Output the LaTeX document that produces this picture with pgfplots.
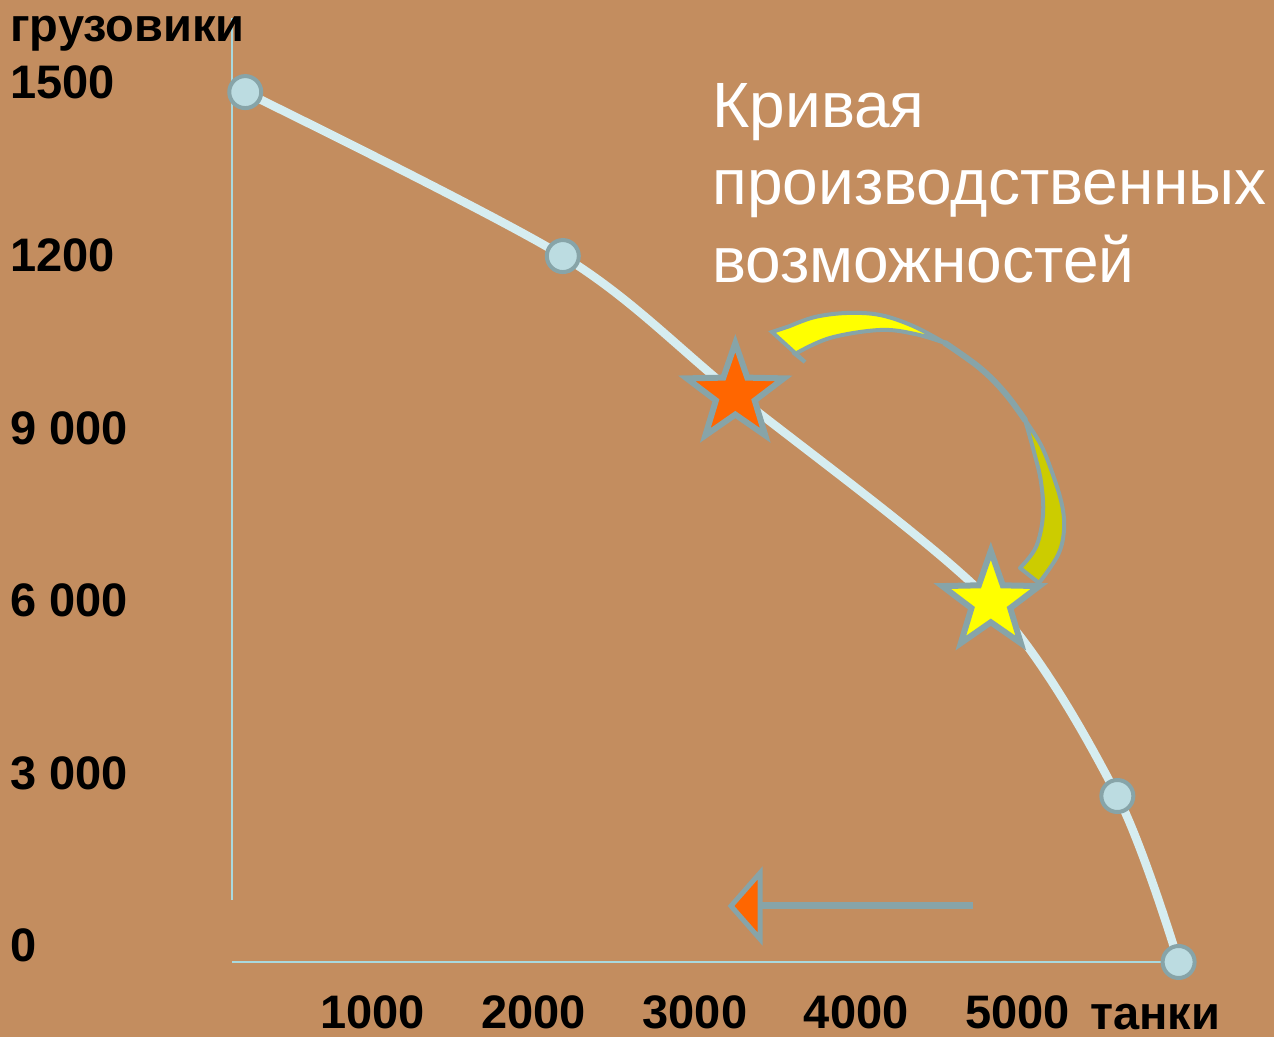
\documentclass[border=0pt]{standalone}
\usepackage{fontspec}
\setmainfont{Liberation Sans}
\usepackage{pgfplots}
\pgfplotsset{compat=1.18}

\definecolor{bgc}{HTML}{C38D5F}
\definecolor{curve}{HTML}{D6EDF0}
\definecolor{mfill}{HTML}{BCDCE1}
\definecolor{edge}{HTML}{87A4A8}
\definecolor{axc}{HTML}{A9D9DE}
\definecolor{orng}{HTML}{FF6600}
\definecolor{yel}{HTML}{FFFF00}
\definecolor{dyel}{HTML}{CCCC00}

\newcommand\lab{\fontsize{23.5}{28}\selectfont\bfseries}
\newcommand\ttl{\fontsize{32}{38}\selectfont}

% filled five-point star
\pgfdeclareplotmark{fstar}{%
  \pgfpathmoveto{\pgfpointpolar{90}{\pgfplotmarksize}}%
  \pgfpathlineto{\pgfpointpolar{126}{0.4\pgfplotmarksize}}%
  \pgfpathlineto{\pgfpointpolar{162}{\pgfplotmarksize}}%
  \pgfpathlineto{\pgfpointpolar{198}{0.4\pgfplotmarksize}}%
  \pgfpathlineto{\pgfpointpolar{234}{\pgfplotmarksize}}%
  \pgfpathlineto{\pgfpointpolar{270}{0.4\pgfplotmarksize}}%
  \pgfpathlineto{\pgfpointpolar{306}{\pgfplotmarksize}}%
  \pgfpathlineto{\pgfpointpolar{342}{0.4\pgfplotmarksize}}%
  \pgfpathlineto{\pgfpointpolar{18}{\pgfplotmarksize}}%
  \pgfpathlineto{\pgfpointpolar{54}{0.4\pgfplotmarksize}}%
  \pgfpathclose
  \pgfusepathqfillstroke}

\begin{document}
\begin{tikzpicture}
\path[use as bounding box] (0pt,0pt) rectangle (637pt,518.5pt);

% decorations in pixel units (origin top left)
\begin{scope}[shift={(0pt,518.5pt)}, x=0.5pt, y=-0.5pt]
  \fill[bgc] (0,0) rectangle (1274,1037);
  % axis lines
  \draw[axc, line width=1pt] (232,18) -- (232,900);
  \draw[axc, line width=1pt] (232,962) -- (1180,962);
  % curved arrow, lower (dark) part
  \draw[fill=dyel, draw=edge, line width=2pt, line join=round]
    (1025,420) -- plot[smooth, tension=0.6] coordinates {(1025,420) (1041,445) (1053,475) (1062,505) (1064,530) (1058,555) (1039,583)}
    -- (1020,568)
    -- plot[smooth, tension=0.6] coordinates {(1020,568) (1036,547) (1043,515) (1041,482) (1034,452) (1025,420)} -- cycle;
  % edge-on middle part
  \draw[edge, line width=3pt, line cap=round]
    plot[smooth, tension=0.6] coordinates {(945,343) (980,368) (1005,393) (1025,420)};
  % upper (bright) part with head
  \draw[fill=yel, draw=edge, line width=2pt, line join=miter]
    (945,343) -- plot[smooth, tension=0.6] coordinates {(945,343) (913,326) (880,315) (847,313) (815,317) (790,326)}
    -- (772,332) -- (805,362) -- (795,354)
    -- plot[smooth, tension=0.6] coordinates {(795,354) (830,338) (880,330) (915,334) (945,343)} -- cycle;
  % straight arrow
  \draw[edge, line width=3.5pt] (973,906) -- (760,906);
  \draw[fill=orng, draw=edge, line width=2.5pt, line join=miter]
    (760,873) -- (760,939) -- (731,906) -- cycle;
  % title
  \node[white, font=\ttl, anchor=base west, inner sep=0pt] at (712,128) {Кривая};
  \node[white, font=\ttl, anchor=base west, inner sep=0pt] at (712,205) {производственных};
  \node[white, font=\ttl, anchor=base west, inner sep=0pt] at (712,283) {возможностей};
\end{scope}

\begin{axis}[
  at={(0pt,0pt)}, anchor=south west,
  scale only axis, width=637pt, height=518.5pt,
  xmin=-1311.4, xmax=6591.8, ymin=-1303.6, ymax=16720.8,
  axis line style={draw=none}, major tick length=0pt,
  xtick={1000,2000,3000,4000,5000},
  xticklabels={1000,2000,3000,4000,5000},
  ytick={0,3000,6000,9000,12000,15000},
  yticklabels={0,3 000,6 000,9 000,1200,1500},
  xticklabel style={anchor=base, yshift=4pt, inner sep=0pt, font=\lab},
  yticklabel style={anchor=base west, xshift=5pt, inner sep=0pt, font=\lab},
  xlabel={танки}, ylabel={грузовики},
  every axis x label/.style={at={(axis description cs:0.9066,0.0077)}, anchor=base, inner sep=0pt, font=\lab},
  every axis y label/.style={at={(axis description cs:0.00785,0.9595)}, anchor=base west, inner sep=0pt, font=\lab},
  clip=false,
]
\addplot[only marks, mark=*, mark size=8pt,
  mark options={fill=mfill, draw=edge, line width=2pt}]
  coordinates {(210,15120) (2180,12270) (5620,2885) (6000,0)};
\addplot[smooth, no marks, draw=curve, line width=4.2pt, line cap=round]
  coordinates {(210,15120) (2180,12270) (3250,9870) (4835,6260) (5620,2885) (6000,0)};
\addplot[only marks, mark=fstar, mark size=25.5pt,
  mark options={fill=orng, draw=edge, line width=3pt}]
  coordinates {(3250,9870)};
\addplot[only marks, mark=fstar, mark size=25.5pt,
  mark options={fill=yel, draw=edge, line width=3pt}]
  coordinates {(4835,6260)};
\end{axis}
\end{tikzpicture}
\end{document}
